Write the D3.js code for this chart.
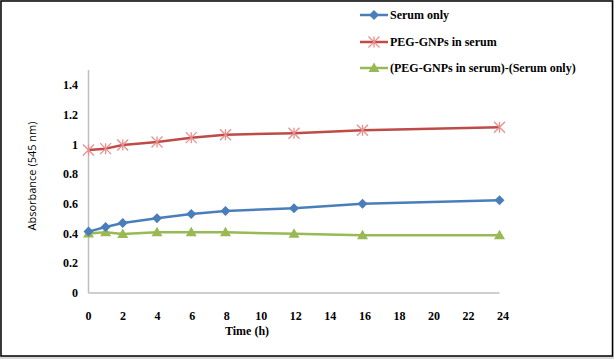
<!DOCTYPE html>
<html><head><meta charset="utf-8">
<script src="https://cdn.jsdelivr.net/npm/d3@7"></script>
<style>body{margin:0;background:#fff}svg{display:block}</style>
</head><body>
<script>
const hours = [0, 1, 2, 4, 6, 8, 12, 16, 24];
const serumOnly = [0.413, 0.444, 0.471, 0.503, 0.532, 0.552, 0.570, 0.601, 0.624];
const pegInSerum = [0.962, 0.971, 0.996, 1.016, 1.045, 1.065, 1.075, 1.095, 1.115];
const difference = [0.400, 0.408, 0.397, 0.408, 0.408, 0.408, 0.399, 0.388, 0.388];
const xTicks = [0, 2, 4, 6, 8, 10, 12, 14, 16, 18, 20, 22, 24];
const yTicks = [0, 0.2, 0.4, 0.6, 0.8, 1, 1.2, 1.4];
const seriesNames = ["Serum only", "PEG-GNPs in serum", "(PEG-GNPs in serum)-(Serum only)"];

const W = 614, H = 359;
const svg = d3.select("body").append("svg").attr("width", W).attr("height", H);
svg.append("rect").attr("x", 0).attr("y", 0).attr("width", W).attr("height", H).attr("fill", "#d9d9d9");
svg.append("rect").attr("x", 1).attr("y", 1).attr("width", 611.5).attr("height", 355).attr("fill", "#fff")
  .attr("stroke", "#000").attr("stroke-width", 1.5);

const x = d3.scaleLinear().domain([0, 24]).range([88.5, 499.5]);
const y = d3.scaleLinear().domain([0, 1.5]).range([293, 70]);

const serif = "'Liberation Serif','Times New Roman',serif";

// axes lines
svg.append("line").attr("x1", x(0)).attr("x2", x(0)).attr("y1", y(1.5)).attr("y2", y(0))
  .attr("stroke", "#bfbfbf").attr("stroke-width", 1.5);
svg.append("line").attr("x1", x(0)).attr("x2", x(24)).attr("y1", y(0)).attr("y2", y(0))
  .attr("stroke", "#bfbfbf").attr("stroke-width", 1.5);

// y tick labels
svg.append("g").selectAll("text").data(yTicks).join("text")
  .attr("x", 78).attr("y", d => y(d)).attr("dy", "0.35em").attr("text-anchor", "end")
  .attr("font-family", serif).attr("font-weight", "bold").attr("font-size", 12)
  .text(d => d3.format("")(d));

// x tick labels
svg.append("g").selectAll("text").data(xTicks).join("text")
  .attr("x", d => x(d) + d * 0.15).attr("y", 316).attr("dy", "0.35em").attr("text-anchor", "middle")
  .attr("font-family", serif).attr("font-weight", "bold").attr("font-size", 12)
  .text(d => d);

svg.append("text").attr("x", 247).attr("y", 331).attr("dy", "0.35em").attr("text-anchor", "middle")
  .attr("font-family", serif).attr("font-weight", "bold").attr("font-size", 12).text("Time (h)");

svg.append("text").attr("transform", "translate(32,176) rotate(-90)").attr("dy", "0.35em")
  .attr("text-anchor", "middle").attr("font-family", "'Open Sans','Liberation Sans',sans-serif")
  .attr("font-size", 11).text("Absorbance (545 nm)");

const colors = ["#4a7ebb", "#be4b48", "#98b954"];
const markerColors = ["#4a7ebb", "#e8908e", "#98b954"];
const data = [serumOnly, pegInSerum, difference];
const line = d3.line().x((d, i) => x(hours[i])).y(d => y(d));

function marker(g, type, cx, cy, i) {
  if (type === 0) {
    g.append("path").attr("d", `M${cx},${cy-5}L${cx+5},${cy}L${cx},${cy+5}L${cx-5},${cy}Z`).attr("fill", markerColors[i]);
  } else if (type === 1) {
    const r = 5.5;
    let p = `M${cx-r},${cy-r}L${cx+r},${cy+r}M${cx-r},${cy+r}L${cx+r},${cy-r}M${cx},${cy-r}L${cx},${cy+r}`;
    g.append("path").attr("d", p).attr("stroke", markerColors[i]).attr("stroke-width", 1.3).attr("fill", "none");
  } else {
    g.append("path").attr("d", `M${cx},${cy-5.5}L${cx+5.5},${cy+4}L${cx-5.5},${cy+4}Z`).attr("fill", markerColors[i]);
  }
}

[2, 0, 1].forEach(i => {
  svg.append("path").datum(data[i]).attr("d", line).attr("fill", "none")
    .attr("stroke", colors[i]).attr("stroke-width", 2.5).attr("stroke-linejoin", "round");
  const g = svg.append("g");
  data[i].forEach((v, j) => marker(g, i, x(hours[j]), y(v), i));
});

// legend
const legY = [15, 42, 68];
seriesNames.forEach((name, i) => {
  const g = svg.append("g");
  g.append("line").attr("x1", 360).attr("x2", 388).attr("y1", legY[i]).attr("y2", legY[i])
    .attr("stroke", colors[i]).attr("stroke-width", 2.5);
  marker(g, i, 374, legY[i], i);
  g.append("text").attr("x", 390).attr("y", legY[i]).attr("dy", "0.35em")
    .attr("font-family", serif).attr("font-weight", "bold").attr("font-size", 12).text(name);
});
</script>
</body></html>
